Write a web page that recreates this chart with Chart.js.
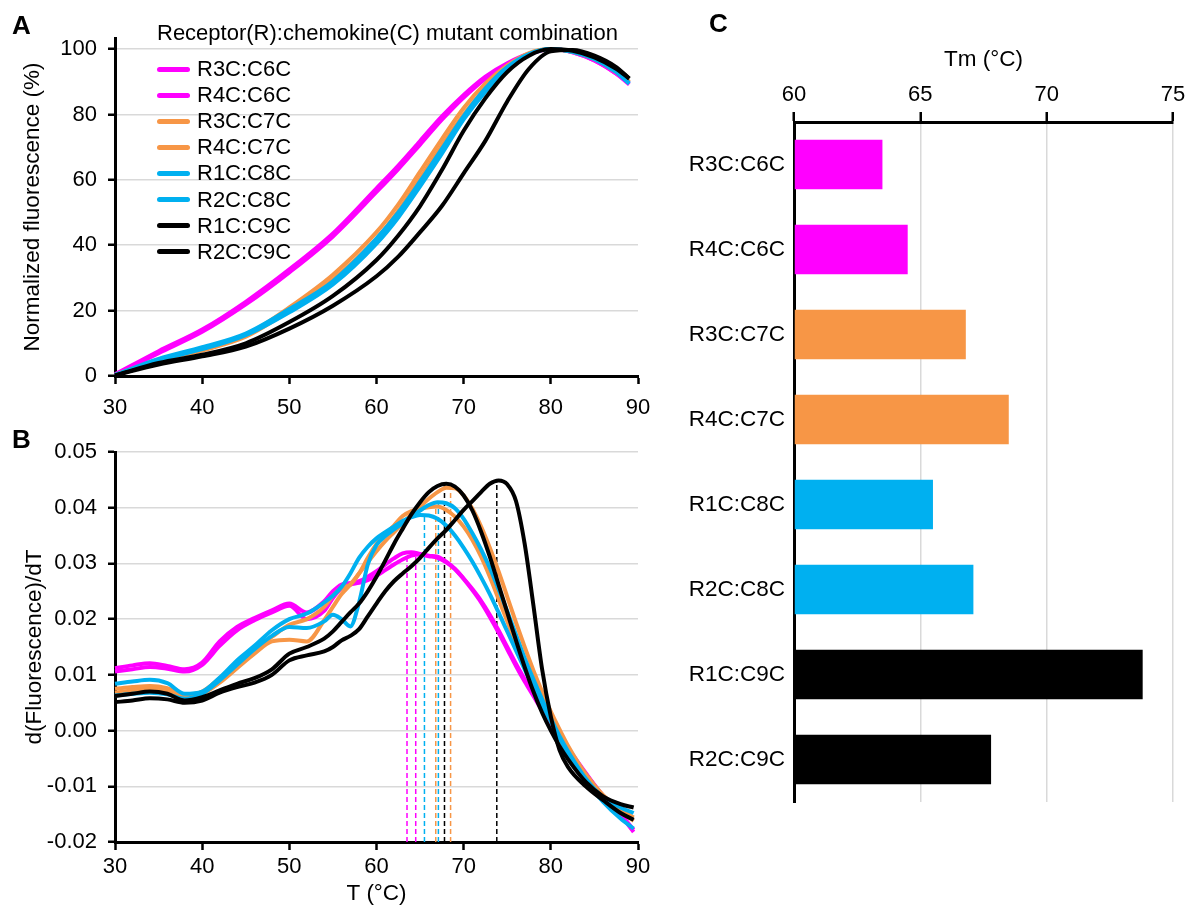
<!DOCTYPE html>
<html>
<head>
<meta charset="utf-8">
<script src="https://cdn.jsdelivr.net/npm/chart.js@4.4.1/dist/chart.umd.min.js"></script>
<style>
  html, body { margin: 0; padding: 0; background: #fff; }
  #fig { position: relative; width: 1204px; height: 908px; overflow: hidden; background: #fff;
         font-family: "Liberation Sans", Arial, sans-serif; color: #000; }
  .box { position: absolute; }
  .panel { position: absolute; font-weight: bold; font-size: 26px; line-height: 26px; }
  #legend { position: absolute; left: 157px; top: 20px; font-size: 22px; line-height: 26px; }
  #legend .ttl { height: 26px; margin-bottom: 10px; white-space: nowrap; }
  #legend .item { height: 26.1px; display: flex; align-items: center; white-space: nowrap; }
  #legend .sw { display: inline-block; width: 33px; height: 5px; border-radius: 3px; margin-right: 7px; }
</style>
</head>
<body>
<div id="fig">
  <div class="box" style="left:0;top:0;width:680px;height:420px;"><canvas id="chartA" width="680" height="420"></canvas></div>
  <div class="box" style="left:0;top:420px;width:680px;height:488px;"><canvas id="chartB" width="680" height="488"></canvas></div>
  <div class="box" style="left:680px;top:0;width:524px;height:908px;"><canvas id="chartC" width="524" height="908"></canvas></div>
  <div class="panel" style="left:12px;top:12px;">A</div>
  <div class="panel" style="left:12px;top:426px;">B</div>
  <div class="panel" style="left:709px;top:10px;">C</div>
  <div id="legend"></div>
</div>
<script>
// ---------- Series ----------
const seriesNames  = ['R3C:C6C','R4C:C6C','R3C:C7C','R4C:C7C','R1C:C8C','R2C:C8C','R1C:C9C','R2C:C9C'];
const seriesColors = ['#FF00FF','#FF00FF','#F79646','#F79646','#00B0F0','#00B0F0','#000000','#000000'];
const legendTitle = 'Receptor(R):chemokine(C) mutant combination';

// ---------- Panel A: normalized fluorescence (%) ----------
const tempA = [30, 35, 40, 45, 50, 55, 60, 62.5, 65, 67.5, 70, 72.5, 75, 77.5, 80, 82.5, 85, 87.5, 89];
const normR3C_C6C = [0.5, 7.6, 14.2, 22.7, 32.6, 43.6, 57.4, 64.4, 71.9, 79.4, 86, 91.6, 95.7, 98.6, 100, 99, 96.5, 92.5, 89.5];
const normR4C_C6C = [0.4, 7.0, 13.5, 21.9, 31.7, 42.7, 56.3, 63.3, 70.8, 78.4, 85.2, 91, 95.3, 98.4, 100, 99, 96.5, 92.5, 89.2];
const normR3C_C7C = [0.3, 5, 8.2, 12.5, 21, 31, 44, 52.5, 62.5, 72.5, 82, 89.5, 95, 98.8, 100, 99.2, 97, 93, 90];
const normR4C_C7C = [0.3, 4.8, 7.8, 12, 20, 29.5, 42, 50.5, 60.5, 70.5, 80, 88, 94.5, 98.5, 100, 99.2, 97, 93, 90];
const normR1C_C8C = [0.3, 5.2, 8.8, 13, 20.5, 29, 42, 50, 59.5, 69.5, 79.5, 88, 94.5, 98.5, 100, 99.2, 97, 93, 89.5];
const normR2C_C8C = [0.3, 4.8, 8.2, 12.5, 19.5, 28, 40.5, 48.5, 58, 68, 78.5, 87, 94, 98.3, 100, 99.2, 97, 93, 89.5];
const normR1C_C9C = [0.2, 3.5, 6, 9, 14.5, 21.5, 30.5, 36.5, 44, 52, 62, 72, 84, 94, 99.3, 99.7, 98, 94.5, 91];
const normR2C_C9C = [0.2, 4, 6.5, 10, 16.5, 24.5, 35.5, 43, 52, 63, 75, 85, 93, 98, 100, 99.5, 97.5, 94, 91];

// ---------- Panel B: d(Fluorescence)/dT ----------
const tempB = [30,32,34,36,38,40,42,44,46,48,50,52,54,55,56,57,58,59,60,61,62,63,64,65,66,67,68,69,70,71,72,73,74,75,76,77,78,79,80,81,82,84,86,88,89.5];
const derivR3C_C6C = [.0112,.0117,.0121,.0116,.0110,.0122,.0160,.0186,.0202,.0216,.0228,.0212,.0232,.0250,.0262,.0265,.0268,.0276,.0286,.0298,.0309,.0318,.0320,.0317,.0314,.0312,.0303,.0290,.0272,.0252,.0230,.0204,.0176,.0146,.0116,.0088,.0062,.0036,.0012,-.0012,-.0034,-.0078,-.0118,-.0152,-.0182];
const derivR4C_C6C = [.0106,.0110,.0114,.0111,.0106,.0118,.0152,.0180,.0198,.0212,.0224,.0200,.0215,.0238,.0255,.0262,.0265,.0270,.0278,.0288,.0298,.0307,.0314,.0316,.0313,.0310,.0302,.0290,.0273,.0254,.0233,.0208,.0180,.0150,.0120,.0092,.0065,.0038,.0014,-.0010,-.0032,-.0076,-.0117,-.0150,-.0178];
const derivR3C_C7C = [.0075,.0078,.0080,.0076,.0064,.0070,.0094,.0122,.0146,.0168,.0190,.0200,.0222,.0242,.0256,.0262,.0282,.0310,.0335,.0352,.0368,.0385,.0394,.0398,.0401,.0402,.0396,.0384,.0366,.0342,.0312,.0276,.0236,.0196,.0156,.0118,.0082,.0048,.0016,-.0014,-.0040,-.0085,-.0120,-.0146,-.0162];
const derivR4C_C7C = [.0068,.0072,.0075,.0072,.0062,.0066,.0086,.0112,.0138,.0160,.0163,.0160,.0198,.0222,.0245,.0262,.0282,.0302,.0322,.0340,.0356,.0372,.0388,.0402,.0416,.0428,.0436,.0435,.0422,.0398,.0366,.0328,.0286,.0240,.0194,.0150,.0108,.0070,.0034,.0002,-.0028,-.0078,-.0116,-.0142,-.0156];
const derivR1C_C8C = [.0084,.0088,.0091,.0085,.0066,.0070,.0095,.0126,.0152,.0180,.0200,.0210,.0230,.0242,.0258,.0282,.0310,.0330,.0345,.0356,.0366,.0376,.0383,.0387,.0386,.0380,.0368,.0350,.0328,.0303,.0275,.0245,.0212,.0178,.0144,.0110,.0078,.0046,.0016,-.0014,-.0042,-.0090,-.0128,-.0158,-.0176];
const derivR2C_C8C = [.0063,.0066,.0068,.0065,.0057,.0066,.0090,.0118,.0146,.0170,.0186,.0184,.0196,.0208,.0200,.0187,.0230,.0298,.0333,.0349,.0361,.0372,.0384,.0395,.0405,.0410,.0408,.0399,.0380,.0354,.0325,.0292,.0254,.0214,.0172,.0130,.0092,.0056,.0022,-.0010,-.0038,-.0086,-.0120,-.0138,-.0148];
const derivR1C_C9C = [.0051,.0054,.0058,.0056,.0050,.0054,.0068,.0078,.0086,.0100,.0126,.0135,.0142,.0150,.0162,.0170,.0182,.0205,.0228,.0250,.0268,.0282,.0295,.0310,.0328,.0345,.0360,.0378,.0396,.0412,.0428,.0443,.0449,.0442,.0412,.0335,.0225,.0110,.0025,-.0035,-.0066,-.0100,-.0125,-.0148,-.0160];
const derivR2C_C9C = [.0062,.0066,.0070,.0066,.0054,.0060,.0072,.0084,.0094,.0110,.0138,.0150,.0165,.0178,.0195,.0212,.0228,.0250,.0276,.0305,.0335,.0362,.0388,.0410,.0428,.0439,.0443,.0438,.0422,.0395,.0357,.0312,.0262,.0212,.0162,.0114,.0070,.0032,.0000,-.0028,-.0052,-.0092,-.0118,-.0132,-.0138];

// ---------- Tm (peak) values, used in B (dashed) and C (bars) ----------
const tmValues   = [63.5, 64.5, 66.8, 68.5, 65.5, 67.1, 73.8, 67.8];
const peakValues = [0.0320, 0.0316, 0.0402, 0.0436, 0.0387, 0.0410, 0.0449, 0.0443];

// ---------- Tick labels ----------
const xTicksAB = [30, 40, 50, 60, 70, 80, 90];
const yTicksA  = [0, 20, 40, 60, 80, 100];
const yTicksB  = [-0.02, -0.01, 0, 0.01, 0.02, 0.03, 0.04, 0.05];
const xTicksC  = [60, 65, 70, 75];

const normA  = [normR3C_C6C, normR4C_C6C, normR3C_C7C, normR4C_C7C, normR1C_C8C, normR2C_C8C, normR1C_C9C, normR2C_C9C];
const derivB = [derivR3C_C6C, derivR4C_C6C, derivR3C_C7C, derivR4C_C7C, derivR1C_C8C, derivR2C_C8C, derivR1C_C9C, derivR2C_C9C];

// ---------- Legend (HTML) ----------
(function () {
  const leg = document.getElementById('legend');
  const t = document.createElement('div'); t.className = 'ttl'; t.textContent = legendTitle; leg.appendChild(t);
  seriesNames.forEach((n, i) => {
    const it = document.createElement('div'); it.className = 'item';
    const sw = document.createElement('span'); sw.className = 'sw'; sw.style.background = seriesColors[i];
    const tx = document.createElement('span'); tx.textContent = n;
    it.appendChild(sw); it.appendChild(tx); leg.appendChild(it);
  });
})();

// ---------- Chart.js ----------
Chart.defaults.font.family = '"Liberation Sans", Arial, sans-serif';
Chart.defaults.color = '#000';
Chart.defaults.font.size = 22;

const GRID = '#d9d9d9';
const setTicks = arr => (s => { s.ticks = arr.map(v => ({ value: v })); });

function curveSets(temps, arrays, clip) {
  return arrays.map((arr, i) => ({
    label: seriesNames[i],
    data: temps.map((t, j) => ({ x: t, y: arr[j] })),
    borderColor: seriesColors[i],
    borderWidth: 4,
    pointRadius: 0,
    fill: false,
    cubicInterpolationMode: 'monotone',
    order: 8 - i,
    clip: clip
  }));
}

const baseOpts = {
  responsive: false, animation: false, devicePixelRatio: 1,
  plugins: { legend: { display: false }, tooltip: { enabled: false } },
  events: []
};

// Panel A
new Chart(document.getElementById('chartA'), {
  type: 'line',
  data: { datasets: curveSets(tempA, normA, 6) },
  options: Object.assign({}, baseOpts, {
    layout: { padding: { top: 38, right: 42, left: 0, bottom: 0 } },
    scales: {
      x: {
        type: 'linear', min: 30, max: 90,
        afterBuildTicks: setTicks(xTicksAB),
        afterFit: s => { s.height = 44; },
        grid: { drawOnChartArea: false, drawTicks: true, tickLength: 8, tickColor: '#000', tickWidth: 2.5 },
        border: { color: '#000', width: 3 },
        ticks: { padding: 11, maxRotation: 0, autoSkip: false }
      },
      y: {
        type: 'linear', min: 0, max: 103.4,
        afterBuildTicks: setTicks(yTicksA),
        afterFit: s => { s.width = 115; },
        grid: { color: GRID, lineWidth: 1.5, tickLength: 7, tickColor: '#000', tickWidth: 2.5 },
        border: { color: '#000', width: 3 },
        ticks: { padding: 11, autoSkip: false },
        title: { display: true, text: 'Normalized fluorescence (%)', font: { size: 22.5 }, padding: { top: 19, bottom: 0 } }
      }
    }
  })
});

// Panel B
const dashSets = tmValues.map((tm, i) => ({
  label: seriesNames[i] + ' Tm',
  data: [{ x: tm, y: yTicksB[0] }, { x: tm, y: peakValues[i] }],
  borderColor: seriesColors[i],
  borderWidth: 1.5,
  borderDash: [5, 3],
  pointRadius: 0,
  fill: false,
  order: 20
}));

new Chart(document.getElementById('chartB'), {
  type: 'line',
  data: { datasets: curveSets(tempB, derivB, 4).concat(dashSets) },
  options: Object.assign({}, baseOpts, {
    layout: { padding: { top: 32, right: 42, left: 0, bottom: 0 } },
    scales: {
      x: {
        type: 'linear', min: 30, max: 90,
        afterBuildTicks: setTicks(xTicksAB),
        afterFit: s => { s.height = 66; },
        grid: { drawOnChartArea: false, drawTicks: true, tickLength: 8, tickColor: '#000', tickWidth: 2.5 },
        border: { color: '#000', width: 3 },
        ticks: { padding: 4, maxRotation: 0, autoSkip: false },
        title: { display: true, text: 'T (°C)', font: { size: 22.5 }, padding: { top: 0, bottom: 1 } }
      },
      y: {
        type: 'linear', min: -0.02, max: 0.05,
        afterBuildTicks: setTicks(yTicksB),
        afterFit: s => { s.width = 115; },
        grid: { color: GRID, lineWidth: 1.5, tickLength: 7, tickColor: '#000', tickWidth: 2.5 },
        border: { color: '#000', width: 3 },
        ticks: { padding: 11, autoSkip: false, callback: v => (Math.abs(v) < 1e-9 ? 0 : v).toFixed(2) },
        title: { display: true, text: 'd(Fluorescence)/dT', font: { size: 22.5 }, padding: { top: 21, bottom: 0 } }
      }
    }
  })
});

// Panel C
new Chart(document.getElementById('chartC'), {
  type: 'bar',
  data: {
    labels: seriesNames,
    datasets: [{
      label: 'Tm',
      data: tmValues,
      base: xTicksC[0],
      backgroundColor: seriesColors,
      borderWidth: 0,
      categoryPercentage: 1,
      barPercentage: 0.58
    }]
  },
  options: Object.assign({}, baseOpts, {
    indexAxis: 'y',
    layout: { padding: { top: 0, right: 31, left: 0, bottom: 106 } },
    scales: {
      x: {
        type: 'linear', position: 'top', min: 60, max: 75,
        afterBuildTicks: setTicks(xTicksC),
        afterFit: s => { s.height = 122; },
        grid: { color: GRID, lineWidth: 1.5, tickLength: 10, tickColor: '#000', tickWidth: 2.5 },
        border: { color: '#000', width: 3 },
        ticks: { padding: 4, maxRotation: 0, autoSkip: false },
        title: { display: true, text: 'Tm (°C)', font: { size: 22.5 }, padding: { top: 46, bottom: 0 } }
      },
      y: {
        afterFit: s => { s.width = 114; },
        grid: { display: false, drawTicks: false, tickLength: 0 },
        border: { color: '#000', width: 3 },
        ticks: { padding: 9, font: { size: 22.5 }, autoSkip: false }
      }
    }
  })
});
</script>
</body>
</html>
